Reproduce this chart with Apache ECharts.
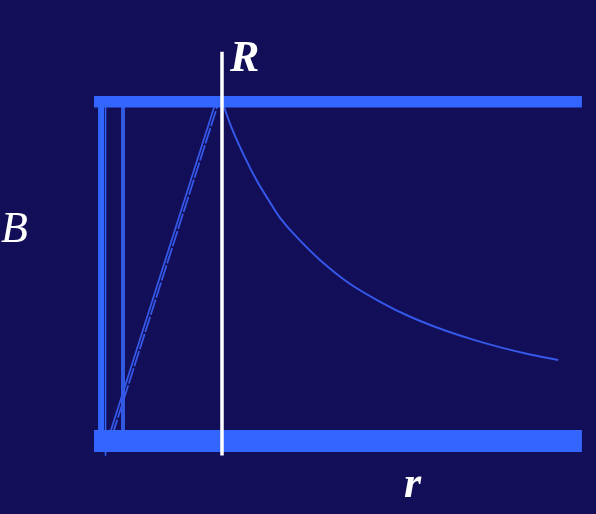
<!DOCTYPE html>
<html>
<head>
<meta charset="utf-8">
<script src="https://cdn.jsdelivr.net/npm/echarts@6/dist/echarts.min.js"></script>
<style>html,body{margin:0;padding:0;background:#120e57;}#c{width:596px;height:514px;}</style>
</head>
<body>
<div id="c"></div>
<script>
// Field B versus radius r (R = 1)
const barSpanR = [-0.085, 4.05];          // horizontal extent of the thick bars
const topBarB = [0.998, 0.998];
const bottomBarB = [0.031, 0.031];
const wallR = [-0.025, 0.013, 0.161];     // vertical lines at left
const wallB = [0.983, -0.011];
const insideR = [0.0, 0.95];              // linear rise inside the wire
const insideB = [0.0, 1.0];
const insideR2 = [0.025, 0.975];
const outsideR = [1.0, 1.08, 1.2, 1.3, 1.42, 1.49, 1.62, 1.83, 2.08, 2.34, 2.59, 2.85, 3.10, 3.36, 3.61, 3.85];
const outsideB = [1.0, 0.925, 0.835, 0.77, 0.704, 0.668, 0.617, 0.547, 0.48, 0.428, 0.386, 0.351, 0.323, 0.298, 0.278, 0.262];
const radiusLine = { r: 1.0, B: [-0.01, 1.14] };
const labels = { R: 'R', B: 'B', r: 'r' };

const bright = '#3366ff';
const lineCol = '#3558e8';
const zip = (xs, ys) => xs.map((x, i) => [x, ys[i]]);

const series = [];
series.push({ type: 'line', data: zip(barSpanR, topBarB), symbol: 'none', lineStyle: { color: bright, width: 11.5, cap: 'butt' }, z: 3 });
series.push({ type: 'line', data: zip(barSpanR, bottomBarB), symbol: 'none', lineStyle: { color: bright, width: 22, cap: 'butt' }, z: 3 });
series.push({ type: 'line', data: zip([wallR[0], wallR[0]], [wallB[0], 0.0]), symbol: 'none', lineStyle: { color: bright, width: 6, cap: 'butt' }, z: 2 });
series.push({ type: 'line', data: zip([wallR[1], wallR[1]], wallB), symbol: 'none', lineStyle: { color: bright, width: 1.5, cap: 'butt' }, z: 2 });
series.push({ type: 'line', data: zip([wallR[2], wallR[2]], [wallB[0], 0.03]), symbol: 'none', lineStyle: { color: '#3159e0', width: 4, cap: 'butt' }, z: 2 });
series.push({ type: 'line', data: zip(insideR, insideB), symbol: 'none', lineStyle: { color: lineCol, width: 1.8 }, z: 2 });
series.push({ type: 'line', data: zip(insideR2, insideB), symbol: 'none', lineStyle: { color: lineCol, width: 1.8, type: [16, 2] }, z: 2 });
series.push({ type: 'line', data: zip(outsideR, outsideB), symbol: 'none', smooth: 0.2, lineStyle: { color: lineCol, width: 2 }, z: 2 });
series.push({ type: 'line', data: zip([radiusLine.r, radiusLine.r], radiusLine.B), symbol: 'none', lineStyle: { color: '#ffffff', width: 3.5, cap: 'butt' }, z: 5 });

const chart = echarts.init(document.getElementById('c'), null, { renderer: 'canvas' });
chart.setOption({
  backgroundColor: '#120e57',
  animation: false,
  grid: { left: 92.2, right: 8.2, top: 30.8, bottom: 26.9 },
  xAxis: { type: 'value', min: -0.1, max: 4.1, show: false },
  yAxis: { type: 'value', min: -0.1, max: 1.2, show: false },
  series: series,
  graphic: [
    { type: 'text', x: 230, y: 38, z: 10, style: { text: labels.R, fill: '#ffffff', font: 'italic bold 44px "Liberation Serif", serif' } },
    { type: 'text', x: 1, y: 208, z: 10, style: { text: labels.B, fill: '#ffffff', font: 'italic 44px "Liberation Serif", serif' } },
    { type: 'text', x: 404, y: 464, z: 10, style: { text: labels.r, fill: '#ffffff', font: 'italic bold 44px "Liberation Serif", serif' } }
  ]
});
</script>
</body>
</html>
